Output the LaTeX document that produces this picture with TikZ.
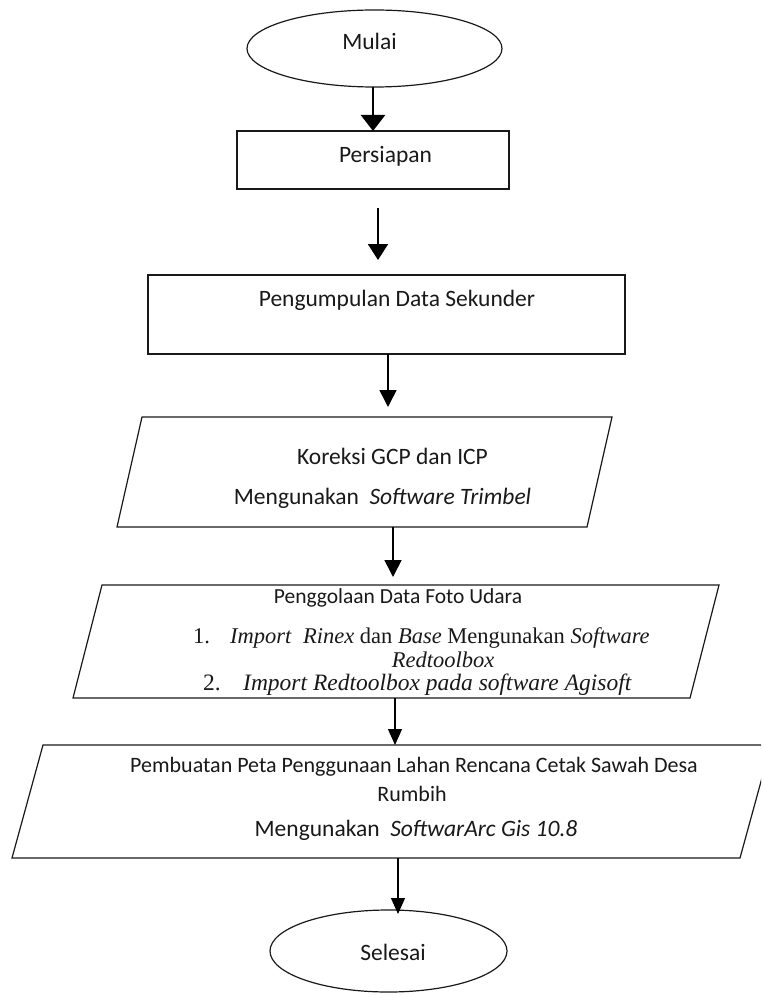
\documentclass[tikz,border=0pt]{standalone}
\usepackage{fontspec}
\setmainfont{Carlito}
\newfontfamily\tnr{Liberation Serif}
\usetikzlibrary{arrows.meta,shapes.geometric}
\begin{document}
\begin{tikzpicture}[x=1pt,y=-1pt,
  outline/.style={draw=black!90, line width=1.2pt},
  ghost/.style={inner sep=0pt, outer sep=0pt},
  ovalbox/.style={ghost, ellipse, outline},
  rectbox/.style={ghost, rectangle, outline},
  lbl/.style={anchor=base, inner sep=0pt, text=black!90},
  cal/.style={lbl, font=\fontsize{22}{26}\selectfont},
  calbig/.style={lbl, font=\fontsize{23.5}{28}\selectfont},
  tms/.style={lbl, font=\tnr\fontsize{22.5}{26}\selectfont},
  arrA/.style={line width=2.4pt, -{Triangle[width=24pt,length=16pt]}},
  arrB/.style={line width=2pt, -{Triangle[width=20pt,length=16pt]}},
  arrC/.style={line width=1.6pt, -{Triangle[width=17pt,length=17pt]}},
  arrD/.style={line width=1.2pt, -{Triangle[width=14pt,length=16pt]}},
]
\path[use as bounding box] (0,0) rectangle (761,995);
\clip (0,0) rectangle (761,995);

% ---- shapes ----
\node[ovalbox, minimum width=255pt, minimum height=77pt] (mulai) at (374.5,48.5) {};
\node[rectbox, minimum width=272pt, minimum height=58pt] (persiapan) at (373,160) {};
\node[rectbox, minimum width=477pt, minimum height=79pt] (kumpul) at (386.5,314.5) {};
\node[ghost, minimum width=495pt, minimum height=110pt] (koreksi) at (364.5,472) {};
\draw[outline] ([xshift=25pt]koreksi.north west) -- (koreksi.north east)
  -- ([xshift=-25pt]koreksi.south east) -- (koreksi.south west) -- cycle;
\node[ghost, minimum width=646pt, minimum height=113pt] (olah) at (396,641.5) {};
\draw[outline] ([xshift=29pt]olah.north west) -- (olah.north east)
  -- ([xshift=-29pt]olah.south east) -- (olah.south west) -- cycle;
\node[ghost, minimum width=759pt, minimum height=113pt] (peta) at (391.5,801.5) {};
\draw[outline] ([xshift=31pt]peta.north west) -- (peta.north east)
  -- ([xshift=-31pt]peta.south east) -- (peta.south west) -- cycle;
\node[ovalbox, minimum width=237pt, minimum height=82pt] (selesai) at (388.5,951) {};

% ---- texts ----
\node[calbig] (tmulai) at (369.5,50) {Mulai};
\node[calbig] (tpersiapan) at (385.5,163) {Persiapan};
\node[calbig] (tkumpul) at (397,306) {Pengumpulan Data Sekunder};
\node[calbig] (tkor1) at (392.5,464) {Koreksi GCP dan ICP};
\node[calbig] (tkor2) at (382.5,504) {Mengunakan\ \ \textit{Software Trimbel}};
\node[cal, font=\fontsize{21.5}{25}\selectfont] (tolah) at (398,603) {Penggolaan Data Foto Udara};
\node[tms, anchor=base west] (tolah1) at (193,643) {\makebox[37pt][l]{1.}\textit{Import}\ \ \textit{Rinex} dan \textit{Base} Mengunakan \textit{Software}};
\node[tms] (tolah1b) at (443,667) {\textit{Redtoolbox}};
\node[tms, anchor=base west, font=\tnr\fontsize{23.5}{27}\selectfont] (tolah2) at (203,690) {\makebox[40pt][l]{2.}\textit{Import Redtoolbox pada software Agisoft}};
\node[cal] (tpeta1) at (414,772) {Pembuatan Peta Penggunaan Lahan Rencana Cetak Sawah Desa};
\node[cal] (tpeta2) at (412,801) {Rumbih};
\node[calbig] (tpeta3) at (416,836) {Mengunakan\ \ \textit{SoftwarArc Gis 10.8}};
\node[calbig] (tselesai) at (393,960) {Selesai};

% ---- connectors ----
\coordinate (x1) at (373,0);
\coordinate (x2) at (378,0);
\coordinate (x3) at (388,0);
\coordinate (x4) at (393,0);
\coordinate (x5) at (395,0);
\coordinate (x6) at (398,0);
\draw[arrA] (mulai.south -| x1) -- (persiapan.north -| x1);
\draw[arrB, shorten <=19pt, shorten >=15pt] (persiapan.south -| x2) -- (kumpul.north -| x2);
\draw[arrC, shorten >=10pt] (kumpul.south -| x3) -- (koreksi.north -| x3);
\draw[arrC, shorten >=8pt] (koreksi.south -| x4) -- (olah.north -| x4);
\draw[arrD] (olah.south -| x5) -- (peta.north -| x5);
\draw[arrD, shorten >=-4pt] (peta.south -| x6) -- (selesai.north -| x6);
\end{tikzpicture}
\end{document}
